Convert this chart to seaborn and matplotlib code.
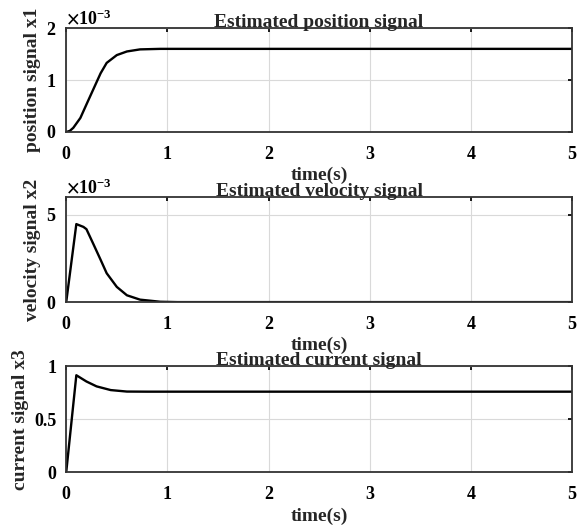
import matplotlib
matplotlib.use('Agg')
import numpy as np
import pandas as pd
import matplotlib.pyplot as plt
import seaborn as sns
from matplotlib.ticker import ScalarFormatter, FixedFormatter

# datos
t_pos = [0, 0.035, 0.07, 0.14, 0.2, 0.27, 0.34, 0.4, 0.5, 0.6, 0.73, 0.93, 1.2, 5.0]
x1 = [0, 0.02e-3, 0.08e-3, 0.27e-3, 0.53e-3, 0.83e-3, 1.13e-3, 1.33e-3, 1.48e-3,
      1.55e-3, 1.59e-3, 1.6e-3, 1.6e-3, 1.6e-3]

t_vel = [0, 0.1, 0.17, 0.2, 0.27, 0.34, 0.4, 0.5, 0.6, 0.73, 0.93, 1.1, 5.0]
x2 = [0, 4.46e-3, 4.3e-3, 4.17e-3, 3.3e-3, 2.42e-3, 1.65e-3, 0.87e-3, 0.39e-3,
      0.14e-3, 0.02e-3, 0, 0]

t_cur = [0, 0.1, 0.2, 0.3, 0.44, 0.6, 0.8, 5.0]
x3 = [0, 0.915, 0.856, 0.81, 0.775, 0.761, 0.76, 0.76]

titulos = ['Estimated position signal', 'Estimated velocity signal', 'Estimated current signal']
etiquetas_y = ['position signal x1', 'velocity signal x2', 'current signal x3']

sns.set_theme(style="white")
plt.rcParams['font.family'] = ['Liberation Serif', 'DejaVu Serif']
plt.rcParams['font.weight'] = 'bold'
plt.rcParams['mathtext.fontset'] = 'stix'

fig = plt.figure(figsize=(5.86, 5.30), dpi=100)
posiciones = [[0.113, 0.751, 0.863, 0.196],
              [0.113, 0.430, 0.863, 0.198],
              [0.113, 0.109, 0.863, 0.200]]
series = [(t_pos, x1, [0, 2e-3], [0, 1e-3, 2e-3]),
          (t_vel, x2, [0, 6e-3], [0, 5e-3]),
          (t_cur, x3, [0, 1], [0, 0.5, 1])]

for i, (t, y, ylim, yticks) in enumerate(series):
    ax = fig.add_axes(posiciones[i])
    df = pd.DataFrame({'t': t, 'y': y})
    sns.lineplot(data=df, x='t', y='y', ax=ax, color='black', linewidth=1.7)
    ax.set_xlim(0, 5)
    ax.set_ylim(*ylim)
    ax.set_xticks([0, 1, 2, 3, 4, 5])
    ax.set_yticks(yticks)
    ax.grid(True, color='#d9d9d9', linewidth=0.8)
    ax.tick_params(direction='in', length=3, labelsize=13, top=True, right=True,
                   colors='black', pad=7)
    ax.tick_params(axis='x', pad=10)
    for s in ax.spines.values():
        s.set_color('#333333')
        s.set_linewidth(1.3)
    if i < 2:
        fmt = ScalarFormatter(useMathText=True)
        fmt.set_powerlimits((-3, -3))
        ax.yaxis.set_major_formatter(fmt)
        ax.yaxis.get_offset_text().set_fontsize(13)
    else:
        ax.yaxis.set_major_formatter(FixedFormatter(['0', '0.5', '1']))
    for lab in ax.get_xticklabels() + ax.get_yticklabels():
        lab.set_fontweight('bold')
    ax.set_title(titulos[i], fontsize=14, fontweight='bold', pad=1)
    ax.set_xlabel('time(s)', fontsize=14, fontweight='bold', labelpad=3)
    ax.set_ylabel(etiquetas_y[i], fontsize=14, fontweight='bold', labelpad=4)

plt.savefig('out.png', dpi=100)
plt.close()
